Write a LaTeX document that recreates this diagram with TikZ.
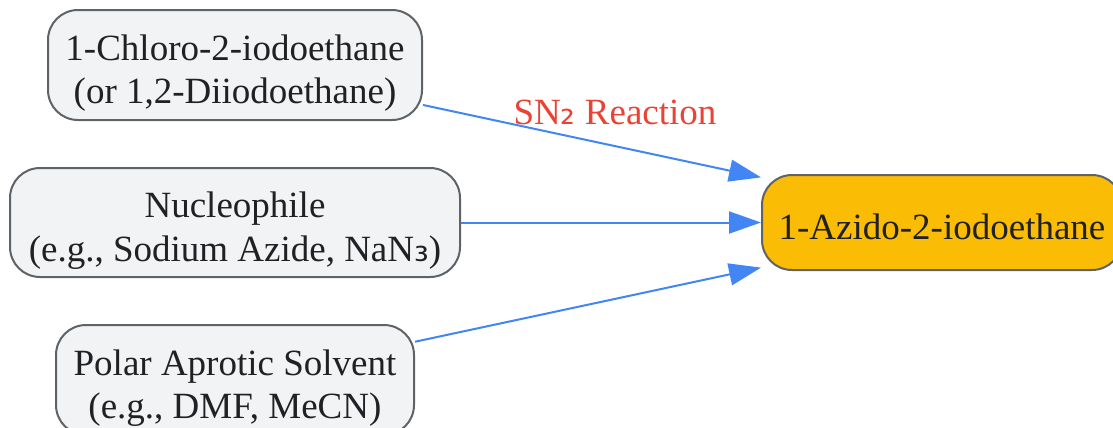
\documentclass[tikz,border=0pt]{standalone}
\usepackage{fontspec}
\setmainfont{Liberation Serif}
\newfontfamily\subfont{DejaVu Sans}
\usetikzlibrary{arrows.meta}
\definecolor{boxfill}{HTML}{F1F3F4}
\definecolor{boxdraw}{HTML}{5F6368}
\definecolor{prodfill}{HTML}{FBBC05}
\definecolor{arrowblue}{HTML}{4285F4}
\definecolor{labelred}{HTML}{EA4335}
\definecolor{textdark}{HTML}{202124}
\newcommand\tstrut{\rule{0pt}{21pt}}
\tikzset{
  reagent/.style={draw=boxdraw, line width=1pt, fill=boxfill, rounded corners=15pt,
    align=center, text=textdark, font=\fontsize{18.5}{21.8}\selectfont, inner sep=0pt},
  product/.style={reagent, fill=prodfill},
  flow/.style={draw=arrowblue, line width=1pt, -{Triangle[length=16pt,width=11pt]}}
}
\begin{document}
\begin{tikzpicture}[x=0.5pt,y=-0.5pt]
\useasboundingbox (0,0) rectangle (1113,428);
\node[reagent, minimum width=187pt, minimum height=55pt] (top) at (235,65) {\tstrut 1-Chloro-2-iodoethane\\(or 1,2-Diiodoethane)};
\node[reagent, minimum width=225pt, minimum height=54.5pt] (mid) at (235,222.5) {\tstrut Nucleophile\\(e.g., Sodium Azide, NaN{\subfont ₃})};
\node[reagent, minimum width=179pt, minimum height=55pt] (bot) at (235,380) {\tstrut Polar Aprotic Solvent\\(e.g., DMF, MeCN)};
\node[product, minimum width=180pt, minimum height=47.5pt] (prod) at (942,222.5) {\rule{0pt}{17pt}1-Azido-2-iodoethane};
\draw[flow] (top.-12.7) -- (prod.166.7);
\draw[flow] (mid.east) -- (prod.west);
\draw[flow] (bot.12.6) -- (prod.-166.7);
\node[text=labelred, font=\fontsize{18.5}{21.5}\selectfont, inner sep=0pt] (lbl) at (615,112) {SN{\subfont ₂} Reaction};
\end{tikzpicture}
\end{document}
